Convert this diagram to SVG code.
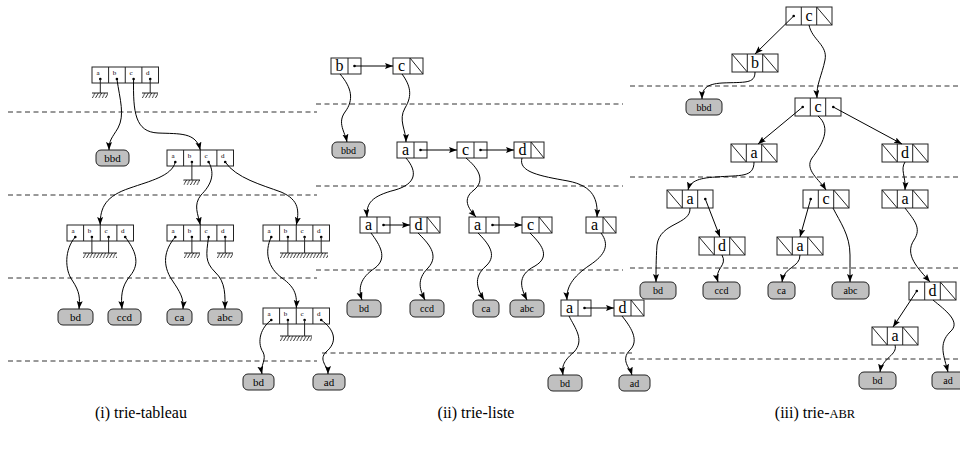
<svg xmlns="http://www.w3.org/2000/svg" width="960" height="457" viewBox="0 0 960 457">
<style>
text{font-family:"Liberation Serif","Times New Roman",serif;fill:#000}
.box{fill:#fff;stroke:#222;stroke-width:1}
.ln{stroke:#222;stroke-width:1;fill:none}
.leaf{fill:#c0c0c0;stroke:#222;stroke-width:1}
.dot{fill:#000}
.conn path{stroke:#000;stroke-width:1;fill:none;marker-end:url(#ah)}
.dash{stroke:#333;stroke-width:1;stroke-dasharray:5 3.5}
.t7{font-size:7px;text-anchor:middle}
.big{font-size:16px;text-anchor:middle}
.big3{font-size:16px;text-anchor:middle}
.lf{font-size:10px;text-anchor:middle}
.lf1{font-size:11px;text-anchor:middle}
.cap{font-size:16px;text-anchor:middle}
</style>
<defs>
<marker id="ah" markerUnits="userSpaceOnUse" markerWidth="9" markerHeight="7" refX="8" refY="3" orient="auto"><path d="M0,0 L8,3 L0,6 L1.5,3 z" fill="#000"/></marker>
<pattern id="hatch" patternUnits="userSpaceOnUse" width="3.3" height="5"><line x1="0.3" y1="5" x2="3" y2="0" stroke="#000" stroke-width="0.8"/></pattern>
</defs>
<rect width="960" height="457" fill="#fff"/>

<g id="separators">
<line class="dash" x1="8" y1="112" x2="317" y2="112"/>
<line class="dash" x1="8" y1="195" x2="317" y2="195"/>
<line class="dash" x1="8" y1="278" x2="317" y2="278"/>
<line class="dash" x1="8" y1="361" x2="317" y2="361"/>
<line class="dash" x1="316" y1="104" x2="623" y2="104"/>
<line class="dash" x1="316" y1="186" x2="623" y2="186"/>
<line class="dash" x1="316" y1="270" x2="623" y2="270"/>
<line class="dash" x1="322" y1="353" x2="632" y2="353"/>
<line class="dash" x1="630" y1="86" x2="960" y2="86"/>
<line class="dash" x1="630" y1="177" x2="960" y2="177"/>
<line class="dash" x1="630" y1="268" x2="960" y2="268"/>
<line class="dash" x1="630" y1="359" x2="960" y2="359"/>
</g>

<!-- Panel (i) arrays -->
<g id="i-root">
<rect class="box" x="92" y="67" width="66.5" height="16"/>
<path class="ln" d="M108.6,67V83M125.25,67V83M141.9,67V83"/>
<text class="t7" x="98" y="75">a</text><text class="t7" x="114.5" y="75">b</text><text class="t7" x="131" y="75">c</text><text class="t7" x="147.7" y="75">d</text>
<circle class="dot" cx="100.3" cy="79" r="1.3"/><circle class="dot" cx="116.9" cy="79" r="1.3"/><circle class="dot" cx="133.6" cy="79" r="1.3"/><circle class="dot" cx="150.2" cy="79" r="1.3"/>
<path class="ln" d="M100.3,79V93M150.2,79V93"/>
<g transform="translate(92,93)"><line class="ln" x1="0" y1="0" x2="16" y2="0"/><rect width="16" height="5" fill="url(#hatch)"/></g>
<g transform="translate(142,93)"><line class="ln" x1="0" y1="0" x2="16" y2="0"/><rect width="16" height="5" fill="url(#hatch)"/></g>
</g>
<g id="i-c">
<rect class="box" x="167" y="150" width="66.5" height="16"/>
<path class="ln" d="M183.6,150V166M200.25,150V166M216.9,150V166"/>
<text class="t7" x="173" y="158">a</text><text class="t7" x="189.5" y="158">b</text><text class="t7" x="206" y="158">c</text><text class="t7" x="222.7" y="158">d</text>
<circle class="dot" cx="175.3" cy="162" r="1.3"/><circle class="dot" cx="191.9" cy="162" r="1.3"/><circle class="dot" cx="208.6" cy="162" r="1.3"/><circle class="dot" cx="225.2" cy="162" r="1.3"/>
<path class="ln" d="M191.9,162V180"/>
<g transform="translate(183.5,180)"><line class="ln" x1="0" y1="0" x2="16.5" y2="0"/><rect width="16.5" height="5" fill="url(#hatch)"/></g>
</g>
<g id="i-ca">
<rect class="box" x="67" y="225" width="66.5" height="16"/>
<path class="ln" d="M83.6,225V241M100.25,225V241M116.9,225V241"/>
<text class="t7" x="73" y="233">a</text><text class="t7" x="89.5" y="233">b</text><text class="t7" x="106" y="233">c</text><text class="t7" x="122.7" y="233">d</text>
<circle class="dot" cx="75.3" cy="237" r="1.3"/><circle class="dot" cx="91.9" cy="237" r="1.3"/><circle class="dot" cx="108.6" cy="237" r="1.3"/><circle class="dot" cx="125.2" cy="237" r="1.3"/>
<path class="ln" d="M91.9,237V253M108.6,237V253"/>
<g transform="translate(83,253)"><line class="ln" x1="0" y1="0" x2="34" y2="0"/><rect width="34" height="5" fill="url(#hatch)"/></g>
</g>
<g id="i-cc">
<rect class="box" x="167" y="225" width="66.5" height="16"/>
<path class="ln" d="M183.6,225V241M200.25,225V241M216.9,225V241"/>
<text class="t7" x="173" y="233">a</text><text class="t7" x="189.5" y="233">b</text><text class="t7" x="206" y="233">c</text><text class="t7" x="222.7" y="233">d</text>
<circle class="dot" cx="175.3" cy="237" r="1.3"/><circle class="dot" cx="191.9" cy="237" r="1.3"/><circle class="dot" cx="208.6" cy="237" r="1.3"/><circle class="dot" cx="225.2" cy="237" r="1.3"/>
<path class="ln" d="M191.9,237V253M225.2,237V253"/>
<g transform="translate(184,253)"><line class="ln" x1="0" y1="0" x2="16" y2="0"/><rect width="16" height="5" fill="url(#hatch)"/></g>
<g transform="translate(217,253)"><line class="ln" x1="0" y1="0" x2="16" y2="0"/><rect width="16" height="5" fill="url(#hatch)"/></g>
</g>
<g id="i-cd">
<rect class="box" x="263" y="225" width="66.5" height="16"/>
<path class="ln" d="M279.6,225V241M296.25,225V241M312.9,225V241"/>
<text class="t7" x="269" y="233">a</text><text class="t7" x="285.5" y="233">b</text><text class="t7" x="302" y="233">c</text><text class="t7" x="318.7" y="233">d</text>
<circle class="dot" cx="271.3" cy="237" r="1.3"/><circle class="dot" cx="287.9" cy="237" r="1.3"/><circle class="dot" cx="304.6" cy="237" r="1.3"/><circle class="dot" cx="321.2" cy="237" r="1.3"/>
<path class="ln" d="M287.9,237V253M304.6,237V253M321.2,237V253"/>
<g transform="translate(280,253)"><line class="ln" x1="0" y1="0" x2="48" y2="0"/><rect width="48" height="5" fill="url(#hatch)"/></g>
</g>
<g id="i-cda">
<rect class="box" x="263" y="308" width="66.5" height="16"/>
<path class="ln" d="M279.6,308V324M296.25,308V324M312.9,308V324"/>
<text class="t7" x="269" y="316">a</text><text class="t7" x="285.5" y="316">b</text><text class="t7" x="302" y="316">c</text><text class="t7" x="318.7" y="316">d</text>
<circle class="dot" cx="271.3" cy="320" r="1.3"/><circle class="dot" cx="287.9" cy="320" r="1.3"/><circle class="dot" cx="304.6" cy="320" r="1.3"/><circle class="dot" cx="321.2" cy="320" r="1.3"/>
<path class="ln" d="M287.9,320V336M304.6,320V336"/>
<g transform="translate(280,336)"><line class="ln" x1="0" y1="0" x2="32" y2="0"/><rect width="32" height="5" fill="url(#hatch)"/></g>
</g>
<!-- Panel (i) leaves -->
<g id="i-bbd"><rect class="leaf" x="96" y="150" width="33" height="16" rx="5"/><text class="lf1" x="112.5" y="162">bbd</text></g>
<g id="i-bd"><rect class="leaf" x="58" y="309" width="35" height="16" rx="5"/><text class="lf1" x="75.5" y="321">bd</text></g>
<g id="i-ccd"><rect class="leaf" x="108" y="309" width="33" height="16" rx="5"/><text class="lf1" x="124.5" y="321">ccd</text></g>
<g id="i-ca-leaf"><rect class="leaf" x="167" y="309" width="25" height="16" rx="5"/><text class="lf1" x="179.5" y="321">ca</text></g>
<g id="i-abc"><rect class="leaf" x="208" y="309" width="34" height="16" rx="5"/><text class="lf1" x="225" y="321">abc</text></g>
<g id="i-bd2"><rect class="leaf" x="243" y="374" width="31" height="16" rx="5"/><text class="lf1" x="258.5" y="386">bd</text></g>
<g id="i-ad"><rect class="leaf" x="313" y="374" width="32" height="16" rx="5"/><text class="lf1" x="329" y="386">ad</text></g>

<!-- Panel (ii) nodes -->
<g id="ii-b"><rect class="box" x="331" y="58" width="30" height="16"/><line class="ln" x1="348" y1="58" x2="348" y2="74"/><text class="big" x="339.5" y="71">b</text><circle class="dot" cx="354.5" cy="66" r="1.3"/></g>
<g id="ii-c"><rect class="box" x="393" y="58" width="30" height="16"/><line class="ln" x1="410" y1="58" x2="410" y2="74"/><text class="big" x="401.5" y="71">c</text><line class="ln" x1="410" y1="58" x2="423" y2="74"/></g>
<g id="ii-ca"><rect class="box" x="397" y="142" width="30" height="16"/><line class="ln" x1="414" y1="142" x2="414" y2="158"/><text class="big" x="405.5" y="155">a</text><circle class="dot" cx="420.5" cy="150" r="1.3"/></g>
<g id="ii-cc"><rect class="box" x="457" y="142" width="30" height="16"/><line class="ln" x1="474" y1="142" x2="474" y2="158"/><text class="big" x="465.5" y="155">c</text><circle class="dot" cx="480.5" cy="150" r="1.3"/></g>
<g id="ii-cd"><rect class="box" x="514" y="142" width="30" height="16"/><line class="ln" x1="531" y1="142" x2="531" y2="158"/><text class="big" x="522.5" y="155">d</text><line class="ln" x1="531" y1="142" x2="544" y2="158"/></g>
<g id="ii-caa"><rect class="box" x="360" y="217" width="30" height="16"/><line class="ln" x1="377" y1="217" x2="377" y2="233"/><text class="big" x="368.5" y="230">a</text><circle class="dot" cx="383.5" cy="225" r="1.3"/></g>
<g id="ii-cad"><rect class="box" x="410" y="217" width="30" height="16"/><line class="ln" x1="427" y1="217" x2="427" y2="233"/><text class="big" x="418.5" y="230">d</text><line class="ln" x1="427" y1="217" x2="440" y2="233"/></g>
<g id="ii-cca"><rect class="box" x="469" y="217" width="30" height="16"/><line class="ln" x1="486" y1="217" x2="486" y2="233"/><text class="big" x="477.5" y="230">a</text><circle class="dot" cx="492.5" cy="225" r="1.3"/></g>
<g id="ii-ccc"><rect class="box" x="522" y="217" width="30" height="16"/><line class="ln" x1="539" y1="217" x2="539" y2="233"/><text class="big" x="530.5" y="230">c</text><line class="ln" x1="539" y1="217" x2="552" y2="233"/></g>
<g id="ii-cda"><rect class="box" x="586" y="217" width="30" height="16"/><line class="ln" x1="603" y1="217" x2="603" y2="233"/><text class="big" x="594.5" y="230">a</text><line class="ln" x1="603" y1="217" x2="616" y2="233"/></g>
<g id="ii-cdaa"><rect class="box" x="561" y="300" width="30" height="16"/><line class="ln" x1="578" y1="300" x2="578" y2="316"/><text class="big" x="569.5" y="313">a</text><circle class="dot" cx="584.5" cy="308" r="1.3"/></g>
<g id="ii-cdad"><rect class="box" x="614" y="300" width="30" height="16"/><line class="ln" x1="631" y1="300" x2="631" y2="316"/><text class="big" x="622.5" y="313">d</text><line class="ln" x1="631" y1="300" x2="644" y2="316"/></g>
<!-- Panel (ii) leaves -->
<g id="ii-bbd"><rect class="leaf" x="332" y="142" width="33" height="16" rx="5"/><text class="lf" x="348.5" y="153.5">bbd</text></g>
<g id="ii-bd"><rect class="leaf" x="347" y="300" width="34" height="17" rx="5"/><text class="lf" x="364" y="312">bd</text></g>
<g id="ii-ccd"><rect class="leaf" x="410" y="300" width="34" height="17" rx="5"/><text class="lf" x="427" y="312">ccd</text></g>
<g id="ii-ca-leaf"><rect class="leaf" x="473" y="300" width="26" height="17" rx="5"/><text class="lf" x="486" y="312">ca</text></g>
<g id="ii-abc"><rect class="leaf" x="510" y="300" width="34" height="17" rx="5"/><text class="lf" x="527" y="312">abc</text></g>
<g id="ii-bd2"><rect class="leaf" x="548" y="375" width="34" height="16" rx="5"/><text class="lf" x="565" y="386.5">bd</text></g>
<g id="ii-ad"><rect class="leaf" x="619" y="375" width="31" height="16" rx="5"/><text class="lf" x="634.5" y="386.5">ad</text></g>

<!-- Panel (iii) nodes -->
<g id="iii-c"><rect class="box" x="786" y="7" width="46" height="18"/><path class="ln" d="M801.3,7V25M816.7,7V25M816.7,7L832,25"/><text class="big3" x="809" y="21">c</text><circle class="dot" cx="793.7" cy="16" r="1.3"/></g>
<g id="iii-b"><rect class="box" x="732" y="54" width="46" height="18"/><path class="ln" d="M747.3,54V72M762.7,54V72M732,54L747.3,72M762.7,54L778,72"/><text class="big3" x="755" y="68">b</text></g>
<g id="iii-c2"><rect class="box" x="795" y="98" width="46" height="18"/><path class="ln" d="M810.3,98V116M825.7,98V116"/><text class="big3" x="818" y="112">c</text><circle class="dot" cx="802.7" cy="107" r="1.3"/><circle class="dot" cx="833.3" cy="107" r="1.3"/></g>
<g id="iii-a2"><rect class="box" x="731" y="144" width="46" height="18"/><path class="ln" d="M746.3,144V162M761.7,144V162M731,144L746.3,162M761.7,144L777,162"/><text class="big3" x="754" y="158">a</text></g>
<g id="iii-d2"><rect class="box" x="882" y="144" width="46" height="18"/><path class="ln" d="M897.3,144V162M912.7,144V162M882,144L897.3,162M912.7,144L928,162"/><text class="big3" x="905" y="158">d</text></g>
<g id="iii-a3"><rect class="box" x="667" y="190" width="46" height="18"/><path class="ln" d="M682.3,190V208M697.7,190V208M667,190L682.3,208"/><text class="big3" x="690" y="204">a</text><circle class="dot" cx="705.3" cy="199" r="1.3"/></g>
<g id="iii-c3"><rect class="box" x="803" y="190" width="46" height="18"/><path class="ln" d="M818.3,190V208M833.7,190V208M833.7,190L849,208"/><text class="big3" x="826" y="204">c</text><circle class="dot" cx="810.7" cy="199" r="1.3"/></g>
<g id="iii-a3r"><rect class="box" x="882" y="190" width="46" height="18"/><path class="ln" d="M897.3,190V208M912.7,190V208M882,190L897.3,208M912.7,190L928,208"/><text class="big3" x="905" y="204">a</text></g>
<g id="iii-d4"><rect class="box" x="699" y="237" width="46" height="18"/><path class="ln" d="M714.3,237V255M729.7,237V255M699,237L714.3,255M729.7,237L745,255"/><text class="big3" x="722" y="251">d</text></g>
<g id="iii-a4"><rect class="box" x="777" y="237" width="46" height="18"/><path class="ln" d="M792.3,237V255M807.7,237V255M777,237L792.3,255M807.7,237L823,255"/><text class="big3" x="800" y="251">a</text></g>
<g id="iii-d4r"><rect class="box" x="909" y="282" width="47" height="18"/><path class="ln" d="M924.7,282V300M940.3,282V300M940.3,282L956,300"/><text class="big3" x="932.5" y="296">d</text><circle class="dot" cx="916.8" cy="291" r="1.3"/></g>
<g id="iii-a5"><rect class="box" x="872" y="327" width="46" height="18"/><path class="ln" d="M887.3,327V345M902.7,327V345M872,327L887.3,345M902.7,327L918,345"/><text class="big3" x="895" y="341">a</text></g>
<!-- Panel (iii) leaves -->
<g id="iii-bbd"><rect class="leaf" x="686" y="99" width="36" height="16" rx="5"/><text class="lf" x="704" y="110.5">bbd</text></g>
<g id="iii-bd"><rect class="leaf" x="640" y="282" width="36" height="17" rx="5"/><text class="lf" x="658" y="294">bd</text></g>
<g id="iii-ccd"><rect class="leaf" x="703" y="282" width="37" height="17" rx="5"/><text class="lf" x="721.5" y="294">ccd</text></g>
<g id="iii-ca"><rect class="leaf" x="768" y="282" width="27" height="17" rx="5"/><text class="lf" x="781.5" y="294">ca</text></g>
<g id="iii-abc"><rect class="leaf" x="832" y="282" width="37" height="17" rx="5"/><text class="lf" x="850.5" y="294">abc</text></g>
<g id="iii-bd2"><rect class="leaf" x="859" y="372" width="37" height="17" rx="5"/><text class="lf" x="877.5" y="384">bd</text></g>
<g id="iii-ad"><rect class="leaf" x="932" y="372" width="36" height="17" rx="5"/><text class="lf" x="948" y="384">ad</text></g>

<g id="connectors" class="conn">
<!-- (i) -->
<path d="M116.9,79 C120,100 125,115 118,128 C112,138 109,140 109,150"/>
<path d="M133.6,79 C133,112 135,132 158,133 C180,134 196,132 200.3,150"/>
<path d="M175.3,162 C172,176 150,181 130,188 C106,196 100,207 100.2,225"/>
<path d="M208.6,162 C216,175 210,186 201,195 C193,205 198,214 200.3,225"/>
<path d="M225.2,162 C236,178 262,185 281,192 C300,200 299,212 296.3,225"/>
<path d="M75.3,237 C64,250 65,270 72,280 C80,292 80,298 79,309"/>
<path d="M125.2,237 C135,250 141,263 130,276 C121,287 121,297 122,309"/>
<path d="M175.3,237 C164,250 162,265 172,280 C180,292 184,298 183,309"/>
<path d="M208.6,237 C206,255 205,262 215,272 C226,282 225,296 225,309"/>
<path d="M271.3,237 C264,252 268,268 282,278 C296,288 297,296 296.3,308"/>
<path d="M271.3,320 C258,330 258,345 263,352 C267,360 260,365 262,374"/>
<path d="M321.2,320 C335,330 338,342 326,352 C318,360 328,366 328,374"/>
<!-- (ii) -->
<path d="M354.5,66 L393,66"/>
<path d="M420.5,150 L457,150"/>
<path d="M480.5,150 L514,150"/>
<path d="M383.5,225 L410,225"/>
<path d="M492.5,225 L522,225"/>
<path d="M584.5,308 L614,308"/>
<path d="M340,74 C352,88 354,100 345,112 C337,123 345,132 347,142"/>
<path d="M402,74 C410,85 413,95 405,108 C398,120 406,130 406,142"/>
<path d="M406,158 C418,172 416,184 395,190 C372,196 366,203 367,217"/>
<path d="M466,158 C478,168 486,180 474,190 C462,199 468,208 476,217"/>
<path d="M522,158 C518,172 540,176 568,181 C594,186 598,200 597,217"/>
<path d="M371,233 C380,245 388,258 375,268 C360,278 358,288 362,300"/>
<path d="M418,233 C428,243 440,255 428,268 C416,280 420,290 425,300"/>
<path d="M478,233 C488,243 498,255 486,266 C472,278 478,290 484,300"/>
<path d="M530,233 C540,243 552,256 535,266 C515,276 522,290 527,300"/>
<path d="M601,233 C610,245 605,255 590,265 C572,277 566,288 567,300"/>
<path d="M569,316 C575,328 585,340 574,352 C562,362 562,368 563,375"/>
<path d="M622,316 C630,326 640,340 630,350 C620,360 630,368 632,375"/>
<!-- (iii) -->
<path d="M793.7,16 L755,54"/>
<path d="M802.7,107 L758,144"/>
<path d="M833.3,107 L902,144"/>
<path d="M705.3,199 L720,237"/>
<path d="M810.7,199 L800,237"/>
<path d="M916.8,291 L893,327"/>
<path d="M809,25 C812,40 828,45 825,60 C822,75 816,85 817,98"/>
<path d="M755,72 C755,84 745,82 722,83 C706,84 702,89 702,99"/>
<path d="M818,116 C832,128 822,145 812,158 C804,170 820,180 826,190"/>
<path d="M905,162 C900,170 906,176 905,190"/>
<path d="M754,162 C754,178 740,175 716,177 C697,178 690,182 688,190"/>
<path d="M690,208 C691,225 660,222 657,245 C656,260 656,270 656,282"/>
<path d="M722,255 C728,266 714,268 718,282"/>
<path d="M800,255 C800,268 784,266 782,282"/>
<path d="M833,208 C840,222 850,235 850,255 C850,265 850,272 850,282"/>
<path d="M905,208 C914,220 922,228 914,240 C904,255 918,268 930,282"/>
<path d="M895,345 C898,355 882,358 880,372"/>
<path d="M933,300 C945,310 962,322 950,332 C938,344 944,356 948,372"/>
</g>

<g id="captions">
<text class="cap" x="141" y="418">(i) trie-tableau</text>
<text class="cap" x="476" y="418">(ii) trie-liste</text>
<text class="cap" x="815" y="418">(iii) trie-<tspan font-size="12.5">ABR</tspan></text>
</g>
</svg>
